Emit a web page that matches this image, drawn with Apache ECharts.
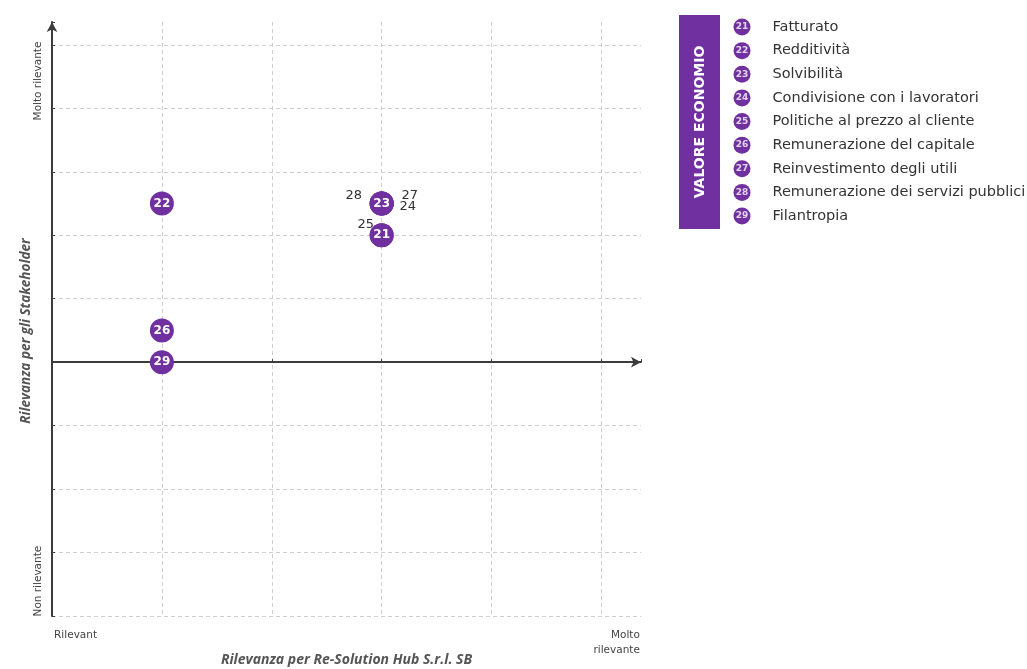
<!DOCTYPE html>
<html>
<head>
<meta charset="utf-8">
<script src="https://cdn.jsdelivr.net/npm/echarts@6/dist/echarts.min.js"></script>
<style>html,body{margin:0;padding:0;background:#fff}#c{width:1027px;height:669px}</style>
</head>
<body>
<div id="c"></div>
<script>
// ---- data ----
const ids = ['21','22','23','24','25','26','27','28','29'];
const names = ['Fatturato','Redditività','Solvibilità','Condivisione con i lavoratori','Politiche al prezzo al cliente','Remunerazione del capitale','Reinvestimento degli utili','Remunerazione dei servizi pubblici','Filantropia'];
const xValues = [3, 1, 3, 3, 3, 1, 3, 3, 1];       // Rilevanza per Re-Solution Hub
const yValues = [2, 2.5, 2.5, 2.5, 2, 0.5, 2.5, 2.5, 0]; // Rilevanza per gli Stakeholder
const overlappedIds = ['24','25','27','28'];
const xTickLabels = ['Rilevant', 'Molto\nrilevante'];
const yTickLabels = ['Non rilevante', 'Molto rilevante'];
const groupTitle = 'VALORE ECONOMIO';
const xAxisName = 'Rilevanza per Re-Solution Hub S.r.l. SB';
const yAxisName = 'Rilevanza per gli Stakeholder';

// ---- styles ----
const PURPLE = '#7030A0';
const labelOffsets = { '24': [26, 3], '25': [-16, -11], '27': [28, -8], '28': [-28, -8] };

const points = ids.map((id, i) => ({ id, value: [xValues[i], yValues[i]] }));
const hiddenData = points.filter(p => overlappedIds.includes(p.id)).map(p => ({
  name: p.id, value: p.value,
  label: { offset: labelOffsets[p.id] }
}));
const visibleData = points.filter(p => !overlappedIds.includes(p.id)).map(p => ({ name: p.id, value: p.value }));

const axisLineStyle = { color: '#3c3c3c', width: 2 };
const splitLineStyle = { color: '#cfcfcf', type: [4, 3], width: 1 };

const chart = echarts.init(document.getElementById('c'), null, { renderer: 'canvas' });
chart.setOption({
  animation: false,
  textStyle: { fontFamily: 'DejaVu Sans' },
  grid: [
    { left: 52, top: 22, right: 386, bottom: 53, outerBoundsMode: 'none', containLabel: false },
    { left: 742, top: 27, width: 200, height: 189, outerBoundsMode: 'none', containLabel: false }
  ],
  xAxis: [
    {
      type: 'value', gridIndex: 0, min: 0, max: 5.36, interval: 1,
      axisLine: { show: true, onZero: true, lineStyle: axisLineStyle, symbol: ['none', 'arrow'], symbolSize: [8, 10] },
      axisTick: { show: true, inside: true, length: 3, lineStyle: { color: '#3c3c3c' } },
      axisLabel: { show: false },
      splitLine: { show: true, showMinLine: false, showMaxLine: false, lineStyle: splitLineStyle }
    },
    {
      type: 'value', gridIndex: 0, min: 0, max: 5.36, position: 'bottom',
      axisLine: { show: false, onZero: false },
      axisTick: { show: false },
      splitLine: { show: false },
      axisLabel: {
        show: true, customValues: [0.41, 5.35], align: 'right', margin: 12,
        fontSize: 10.5, lineHeight: 15, color: '#444',
        formatter: v => v < 1 ? xTickLabels[0] : xTickLabels[1]
      },
      name: xAxisName, nameLocation: 'middle', nameGap: 37, nameMoveOverlap: false,
      nameTextStyle: { fontFamily: 'Open Sans', fontStyle: 'italic', fontWeight: 'bold', fontSize: 14, color: '#555' }
    },
    { type: 'value', gridIndex: 1, min: 0, max: 1, show: false }
  ],
  yAxis: [
    {
      type: 'value', gridIndex: 0, min: -4, max: 5.36, interval: 1,
      axisLine: { show: true, onZero: false, lineStyle: axisLineStyle, symbol: ['none', 'arrow'], symbolSize: [8, 10] },
      axisTick: { show: true, inside: true, length: 3, lineStyle: { color: '#3c3c3c' } },
      axisLabel: {
        show: true, customValues: [-3.45, 4.43], rotate: 90, margin: 8,
        fontSize: 10.5, color: '#444',
        formatter: v => v < 0 ? yTickLabels[0] : yTickLabels[1]
      },
      splitLine: { show: true, showMinLine: true, showMaxLine: false, lineStyle: splitLineStyle },
      name: yAxisName, nameLocation: 'middle', nameGap: 19, nameRotate: 90, nameMoveOverlap: false,
      nameTextStyle: { fontFamily: 'Open Sans', fontStyle: 'italic', fontWeight: 'bold', fontSize: 13.5, color: '#555', padding: [0, 24, 0, 0] }
    },
    {
      type: 'category', gridIndex: 1, data: ids, inverse: true, boundaryGap: false, show: false
    }
  ],
  graphic: [
    { type: 'rect', left: 679, top: 15, shape: { width: 41, height: 214 }, style: { fill: PURPLE } },
    {
      type: 'text', x: 700, y: 122, rotation: Math.PI / 2,
      style: { text: groupTitle, fill: '#fff', font: 'bold 14px "DejaVu Sans"', align: 'center', verticalAlign: 'middle' }
    }
  ],
  series: [
    {
      type: 'scatter', xAxisIndex: 0, yAxisIndex: 0, symbolSize: 24,
      itemStyle: { color: PURPLE, opacity: 1 },
      label: { show: true, position: 'inside', formatter: '{b}', color: '#333', fontSize: 13, fontFamily: 'DejaVu Sans' },
      data: hiddenData, z: 2
    },
    {
      type: 'scatter', xAxisIndex: 0, yAxisIndex: 0, symbolSize: 24,
      itemStyle: { color: PURPLE, opacity: 1 },
      label: { show: true, position: 'inside', formatter: '{b}', color: '#fff', fontSize: 12, fontWeight: 'bold', fontFamily: 'DejaVu Sans' },
      data: visibleData, z: 3
    },
    {
      type: 'scatter', xAxisIndex: 2, yAxisIndex: 1, symbolSize: 17,
      itemStyle: { color: PURPLE, opacity: 1 },
      label: {
        show: true, position: 'right', distance: 22,
        formatter: p => names[p.dataIndex], color: '#333', fontSize: 14.5, fontFamily: 'DejaVu Sans'
      },
      data: ids.map(id => [0, id]), z: 3
    },
    {
      type: 'scatter', xAxisIndex: 2, yAxisIndex: 1, symbolSize: 17,
      itemStyle: { color: 'rgba(0,0,0,0)' },
      label: { show: true, position: 'inside', formatter: p => ids[p.dataIndex], color: '#fff', fontSize: 9, fontWeight: 'bold', fontFamily: 'DejaVu Sans' },
      data: ids.map(id => [0, id]), z: 4
    }
  ]
});
</script>
</body>
</html>
